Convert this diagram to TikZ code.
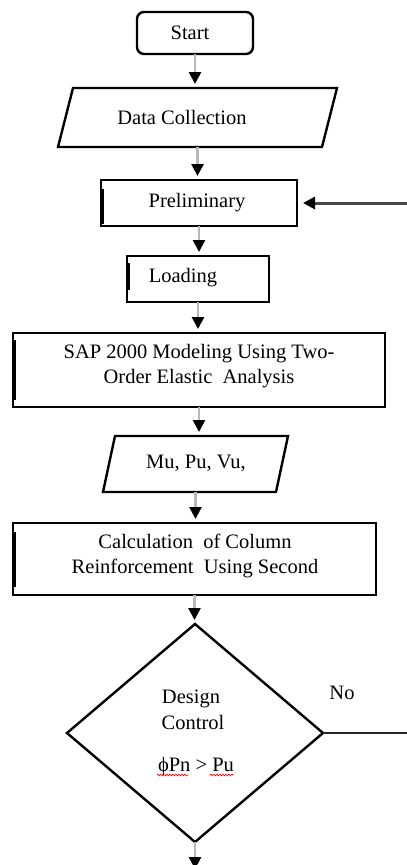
\documentclass[tikz,border=0pt]{standalone}
\usepackage{fontspec}
\setmainfont{Liberation Serif}
\usetikzlibrary{arrows.meta,decorations.pathmorphing}
\begin{document}
\begin{tikzpicture}[x=1pt,y=-1pt,
  frame/.style={draw=none,inner sep=0pt,outer sep=0pt},
  boxed/.style={frame,draw=black,line width=2.4pt},
  edge/.style={line width=2.4pt,draw=black},
  txt/.style={font=\fontsize{20.5}{25}\selectfont,align=center,inner sep=0pt},
  flow/.style={draw=black!28,line width=2.6pt,shorten >=4pt,-{Triangle[length=12pt,width=12pt,color=black,fill=black]}},
  inflow/.style={draw=black!72,line width=3pt,shorten >=6pt,-{Triangle[length=12pt,width=12pt,color=black,fill=black]}},
  leftbar/.style={line width=2pt,draw=black},
  spell/.style={draw=red,line width=0.7pt,decorate,decoration={snake,amplitude=0.8pt,segment length=3pt}}
]
\useasboundingbox (0,0) rectangle (407,865);
\clip (0,0) rectangle (407,865);

% shapes
\node[boxed,rounded corners=7pt,minimum width=116pt,minimum height=42pt] (start) at (195,33) {};
\node[frame,minimum width=279pt,minimum height=59pt] (dc) at (197.5,117.5) {};
\draw[edge] ([xshift=15pt]dc.north west) -- (dc.north east) -- ([xshift=-15pt]dc.south east) -- (dc.south west) -- cycle;
\node[boxed,minimum width=196pt,minimum height=46pt] (prel) at (199,203) {};
\node[boxed,minimum width=142pt,minimum height=46pt] (load) at (198,279) {};
\node[boxed,minimum width=372pt,minimum height=74pt] (sap) at (199,370) {};
\node[frame,minimum width=185pt,minimum height=56pt] (mu) at (195.5,464) {};
\draw[edge] ([xshift=12pt]mu.north west) -- (mu.north east) -- ([xshift=-12pt]mu.south east) -- (mu.south west) -- cycle;
\node[boxed,minimum width=363pt,minimum height=72pt] (calc) at (194.5,559) {};
\node[frame,minimum width=256pt,minimum height=218pt] (dia) at (195,733) {};
\draw[edge] (dia.north) -- (dia.east) -- (dia.south) -- (dia.west) -- cycle;

% thick left edges
\draw[leftbar] (103,189) -- (103,224);
\draw[leftbar] (129,263) -- (129,290);
\draw[leftbar] (15,340) -- (15,400);
\draw[leftbar] (15,532) -- (15,587);

% texts
\node[txt] (tstart) at (190,33) {Start};
\node[txt] (tdc) at (182,117) {Data Collection};
\node[txt] (tprel) at (197,203) {Preliminary};
\node[txt] (tload) at (183,278) {Loading};
\node[txt] (tsap) at (199,366) {SAP 2000 Modeling Using Two-\\Order Elastic\ \ Analysis};
\node[txt] (tmu) at (196,463) {Mu, Pu, Vu,};
\node[txt] (tcalc) at (195,556) {Calculation\ \ of Column\\Reinforcement\ \ Using Second};
\node[txt] (tdes) at (191,699) {Design};
\node[txt] (tcon) at (193,722) {Control};
\node[txt] (tphi) at (196,767) {ϕPn > Pu};
\node[txt] (tno) at (342,693) {No};
\draw[spell] (157,775) -- (188,775);
\draw[spell] (210,775) -- (233,775);

% connectors
\draw[flow] (start.south) -- (start.south |- dc.north);
\draw[flow] (dc.south) -- (dc.south |- prel.north);
\draw[flow] (prel.south) -- (prel.south |- load.north);
\draw[flow] (load.south) -- (load.south |- sap.north);
\draw[flow] (sap.south) -- (sap.south |- mu.north);
\draw[flow] (mu.south) -- (mu.south |- calc.north);
\draw[flow] (calc.south) -- (calc.south |- dia.north);
\coordinate (bend) at (195,869);
\draw[flow,shorten >=0pt] (dia.south) -- (bend);
\coordinate (rin) at (407,203);
\draw[inflow] (rin) -- (prel.east);
\coordinate (noend) at (407,733);
\draw[line width=1.3pt,draw=black!85] (dia.east) -- (noend);
\end{tikzpicture}
\end{document}
